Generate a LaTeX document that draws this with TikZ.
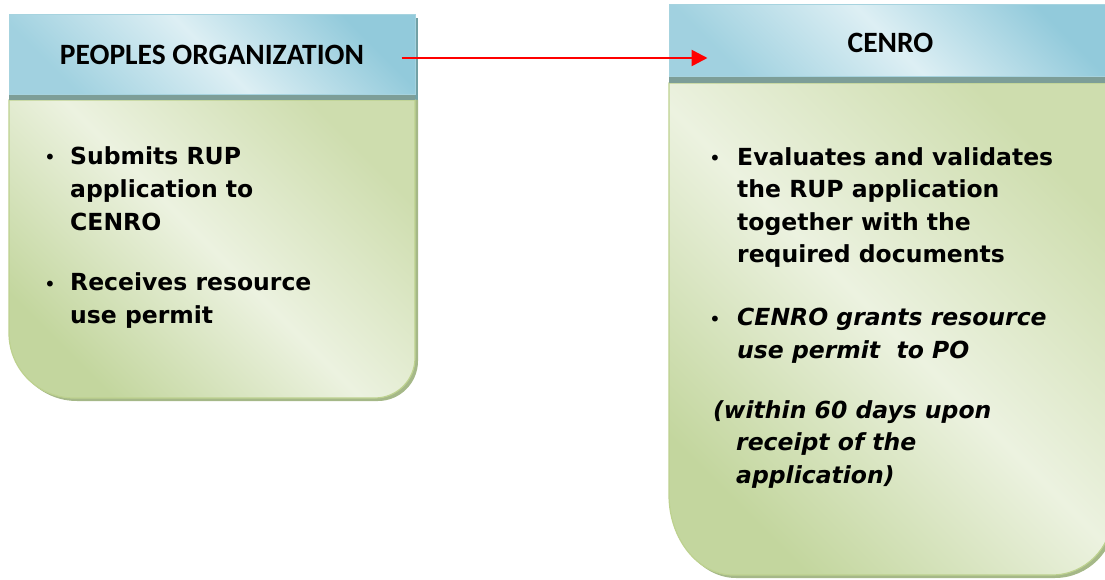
\documentclass[tikz,border=0pt]{standalone}
\usepackage{fontspec}
\setmainfont{DejaVu Sans}
\newfontfamily\headfont{Carlito}
\usetikzlibrary{arrows.meta}
\definecolor{headdark}{HTML}{92CADB}
\definecolor{headlight}{HTML}{DDEFF4}
\definecolor{headedge}{HTML}{A6D3DF}
\definecolor{banddark}{HTML}{7D9E98}
\definecolor{bodydark}{HTML}{C3D69E}
\definecolor{bodylight}{HTML}{ECF2E0}
\definecolor{bodymid}{HTML}{CEDDAE}
\definecolor{bodyedge}{HTML}{BDD18F}
\definecolor{shadowgreen}{HTML}{A5B888}
\definecolor{shadowblue}{HTML}{72A0A5}

\begin{document}
\begin{tikzpicture}[x = 1pt, y = -1pt,
    header/.style = {rectangle, draw = headedge, line width = 1pt, inner sep = 0pt,
                     bottom color = headdark!80!headlight, top color = headdark,
                     middle color = headlight, shading angle = -45,
                     font = \headfont\bfseries\fontsize{29.5}{29.5}\selectfont},
    body/.style = {draw = bodyedge, line width = 1.2pt,
                   bottom color = bodydark, top color = bodymid,
                   middle color = bodylight, shading angle = -45},
    band/.style = {fill = banddark},
    item/.style = {anchor = base west, align = left, inner sep = 0pt,
                   font = \bfseries\fontsize{23.5}{33}\selectfont},
    bullet/.style = {anchor = base, inner sep = 0pt, font = \fontsize{20}{20}\selectfont},
    flowarrow/.style = {draw = red, line width = 2.5pt, -{Triangle[length = 16pt, width = 16pt]}}]
      \useasboundingbox (0, 0) rectangle (1105, 580);
      % shadows
      \fill [shadowblue] (12, 18) rectangle (418, 100);
      \fill [shadowgreen] (12, 100) -- (418, 100) -- (418, 361) .. controls (418, 383) and (400, 401) .. (378, 401)
            -- (77, 401) .. controls (41, 401) and (12, 372) .. (12, 336) -- cycle;
      \fill [shadowgreen] (672, 86) -- (1115, 86) -- (1115, 518) .. controls (1115, 551) and (1088, 578) .. (1055, 578)
            -- (736, 578) .. controls (701, 578) and (672, 542) .. (672, 498) -- cycle;
      % bodies
      \path [body] (9, 100) -- (415, 100) -- (415, 358) .. controls (415, 380) and (397, 398) .. (375, 398)
            -- (74, 398) .. controls (38, 398) and (9, 369) .. (9, 333) -- cycle;
      \path [body] (669, 83) -- (1112, 83) -- (1112, 515) .. controls (1112, 548) and (1085, 575) .. (1052, 575)
            -- (733, 575) .. controls (698, 575) and (669, 539) .. (669, 495) -- cycle;
      % headers
      \node [header, minimum width = 406pt, minimum height = 80pt] (pohead) at (212, 55) {PEOPLES ORGANIZATION};
      \node [header, minimum width = 443pt, minimum height = 72pt, text height = 24pt] (cenrohead) at (890.5, 41) {CENRO};
      \fill [band] (9, 95) rectangle (415, 100);
      \fill [band] (669, 77) rectangle (1112, 83);
      % peoples organization (items sit on their last line)
      \node [bullet] (pobullet1) at (50, 165) {•};
      \node [item] (poitem1) at (70, 230) {Submits RUP\\application to\\CENRO};
      \node [bullet] (pobullet2) at (50, 291) {•};
      \node [item] (poitem2) at (70, 323) {Receives resource\\use permit};
      % cenro
      \node [bullet] (cenrobullet1) at (715, 166) {•};
      \node [item, font = \bfseries\fontsize{23.5}{32.5}\selectfont] (cenroitem1) at (737, 262.5)
            {Evaluates and validates\\the RUP application\\together with the\\required documents};
      \node [bullet] (cenrobullet2) at (715, 326) {•};
      \node [item, font = \bfseries\itshape\fontsize{23.5}{32.5}\selectfont] (cenroitem2) at (737, 358)
            {CENRO grants resource\\use permit~ to PO};
      \node [item, font = \bfseries\itshape\fontsize{23.5}{32.5}\selectfont] (cenronote) at (713, 483)
            {(within 60 days upon\\\hspace*{23pt}receipt of the\\\hspace*{23pt}application)};
      \draw [flowarrow] ([xshift = -14pt, yshift = -3pt]pohead.east) -- ([xshift = 39pt, yshift = -3pt]pohead.east -| cenrohead.west);
    \end{tikzpicture}
\end{document}
